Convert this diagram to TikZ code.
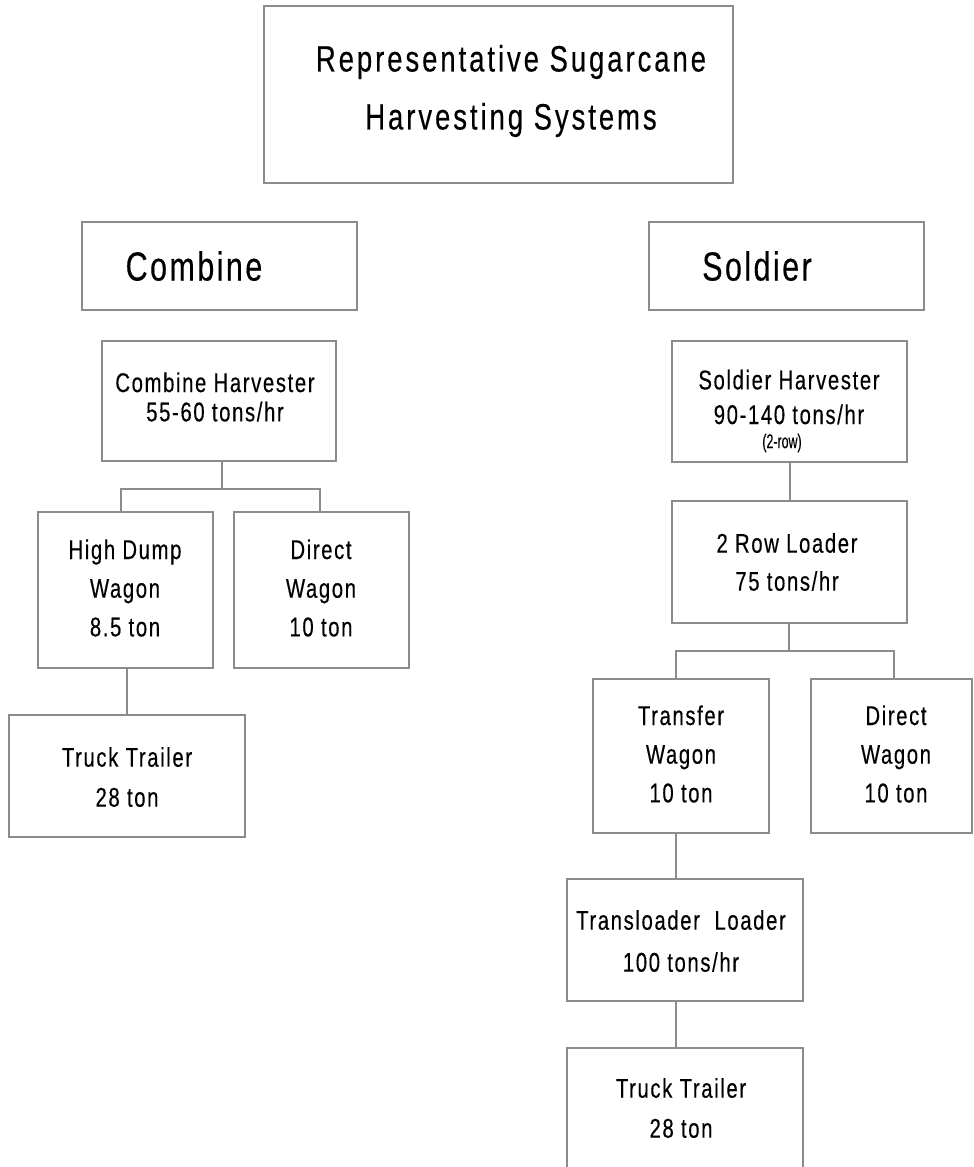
\documentclass[tikz,border=0pt]{standalone}
\usepackage{fontspec}
\setmainfont{Liberation Sans}[FakeStretch=0.75,LetterSpace=6,FakeBold=0.3]
\newfontfamily\titlefont{Liberation Sans}[FakeStretch=0.75,LetterSpace=8,FakeBold=0.3]
\newfontfamily\notefont{Liberation Sans}[FakeStretch=0.62,LetterSpace=0,FakeBold=0.3]
\definecolor{boxgray}{RGB}{140,140,140}
\begin{document}
\begin{tikzpicture}[x=0.75pt,y=-0.75pt,
  box/.style={draw=boxgray,line width=1.5pt,inner sep=0pt,outer sep=0pt,fill=none},
  conn/.style={draw=boxgray,line width=1.5pt},
  txt/.style={align=center,inner sep=0pt,text=black},
  ftitle/.style={font=\titlefont\fontsize{27.5}{43.5}\selectfont},
  fhead/.style={font=\fontsize{30.5}{30}\selectfont},
  fbody/.style={font=\fontsize{20.3}{#1}\selectfont},
  fbody/.default=29pt]
\useasboundingbox (0,0) rectangle (974,1167);
\clip (0,0) rectangle (974,1167);
\fill[white] (0,0) rectangle (974,1167);

% boxes
\node[box,minimum width=351.75pt,minimum height=132.75pt] (title) at (498.5,94.5) {};
\node[box,minimum width=206.25pt,minimum height=66pt] (comb) at (219.5,266) {};
\node[box,minimum width=206.25pt,minimum height=66pt] (sold) at (786.5,266) {};
\node[box,minimum width=175.5pt,minimum height=90pt] (ch) at (219,401) {};
\node[box,minimum width=176.25pt,minimum height=90.75pt] (sh) at (789.5,401.5) {};
\node[box,minimum width=131.25pt,minimum height=117pt] (hd) at (125.5,590) {};
\node[box,minimum width=131.25pt,minimum height=117pt] (dwl) at (321.5,590) {};
\node[box,minimum width=177pt,minimum height=91.5pt] (ttl) at (127,776) {};
\node[box,minimum width=176.25pt,minimum height=91.5pt] (rl) at (789.5,562) {};
\node[box,minimum width=132pt,minimum height=115.5pt] (tw) at (681,756) {};
\node[box,minimum width=120.75pt,minimum height=115.5pt] (dwr) at (891.5,756) {};
\node[box,minimum width=177pt,minimum height=91.5pt] (tl) at (685,940) {};
\node[box,minimum width=177pt,minimum height=91.5pt] (ttr) at (685,1109) {};

% texts
\node[txt,ftitle] (titletxt) at (511,91) {Representative Sugarcane\\Harvesting Systems};
\node[txt,fhead] (combtxt) at (194,266) {Combine};
\node[txt,fhead] (soldtxt) at (757,266) {Soldier};
\node[txt,fbody=22pt] (chtxt) at (215,397) {Combine Harvester\\55-60 tons/hr};
\node[txt,fbody=26pt] (shtxt) at (789,397) {Soldier Harvester\\90-140 tons/hr};
\node[txt,font=\notefont\fontsize{15}{15}\selectfont] (shnote) at (782,443) {(2-row)};
\node[txt,fbody] (hdtxt) at (125,588) {High Dump\\Wagon\\8.5 ton};
\node[txt,fbody] (dwltxt) at (321,588) {Direct\\Wagon\\10 ton};
\node[txt,fbody=30pt] (ttltxt) at (127,777) {Truck Trailer\\28 ton};
\node[txt,fbody=28.5pt] (rltxt) at (787,562) {2 Row Loader\\75 tons/hr};
\node[txt,fbody] (twtxt) at (681,754) {Transfer\\Wagon\\10 ton};
\node[txt,fbody] (dwrtxt) at (896,754) {Direct\\Wagon\\10 ton};
\node[txt,fbody=31.5pt] (tltxt) at (681,941) {Transloader\ \ Loader\\100 tons/hr};
\node[txt,fbody=30pt] (ttrtxt) at (681,1108) {Truck Trailer\\28 ton};

% connectors
\coordinate (jc) at (222,489);
\coordinate (jl) at (121,489);
\coordinate (jr) at (320,489);
\draw[conn] (ch.south -| jc) -- (jc);
\draw[conn] (jl |- hd.north) -- (jl) -- (jr) -- (jr |- dwl.north);
\draw[conn] (hd.south -| ttl.north) -- (ttl.north);

\draw[conn] (sh.south) -- (rl.north);
\coordinate (kc) at (789,651);
\coordinate (kl) at (676,651);
\coordinate (kr) at (894,651);
\draw[conn] (rl.south -| kc) -- (kc);
\draw[conn] (kl |- tw.north) -- (kl) -- (kr) -- (kr |- dwr.north);
\coordinate (tx) at (676,0);
\draw[conn] (tw.south -| tx) -- (tl.north -| tx);
\draw[conn] (tl.south -| tx) -- (ttr.north -| tx);
\end{tikzpicture}
\end{document}
